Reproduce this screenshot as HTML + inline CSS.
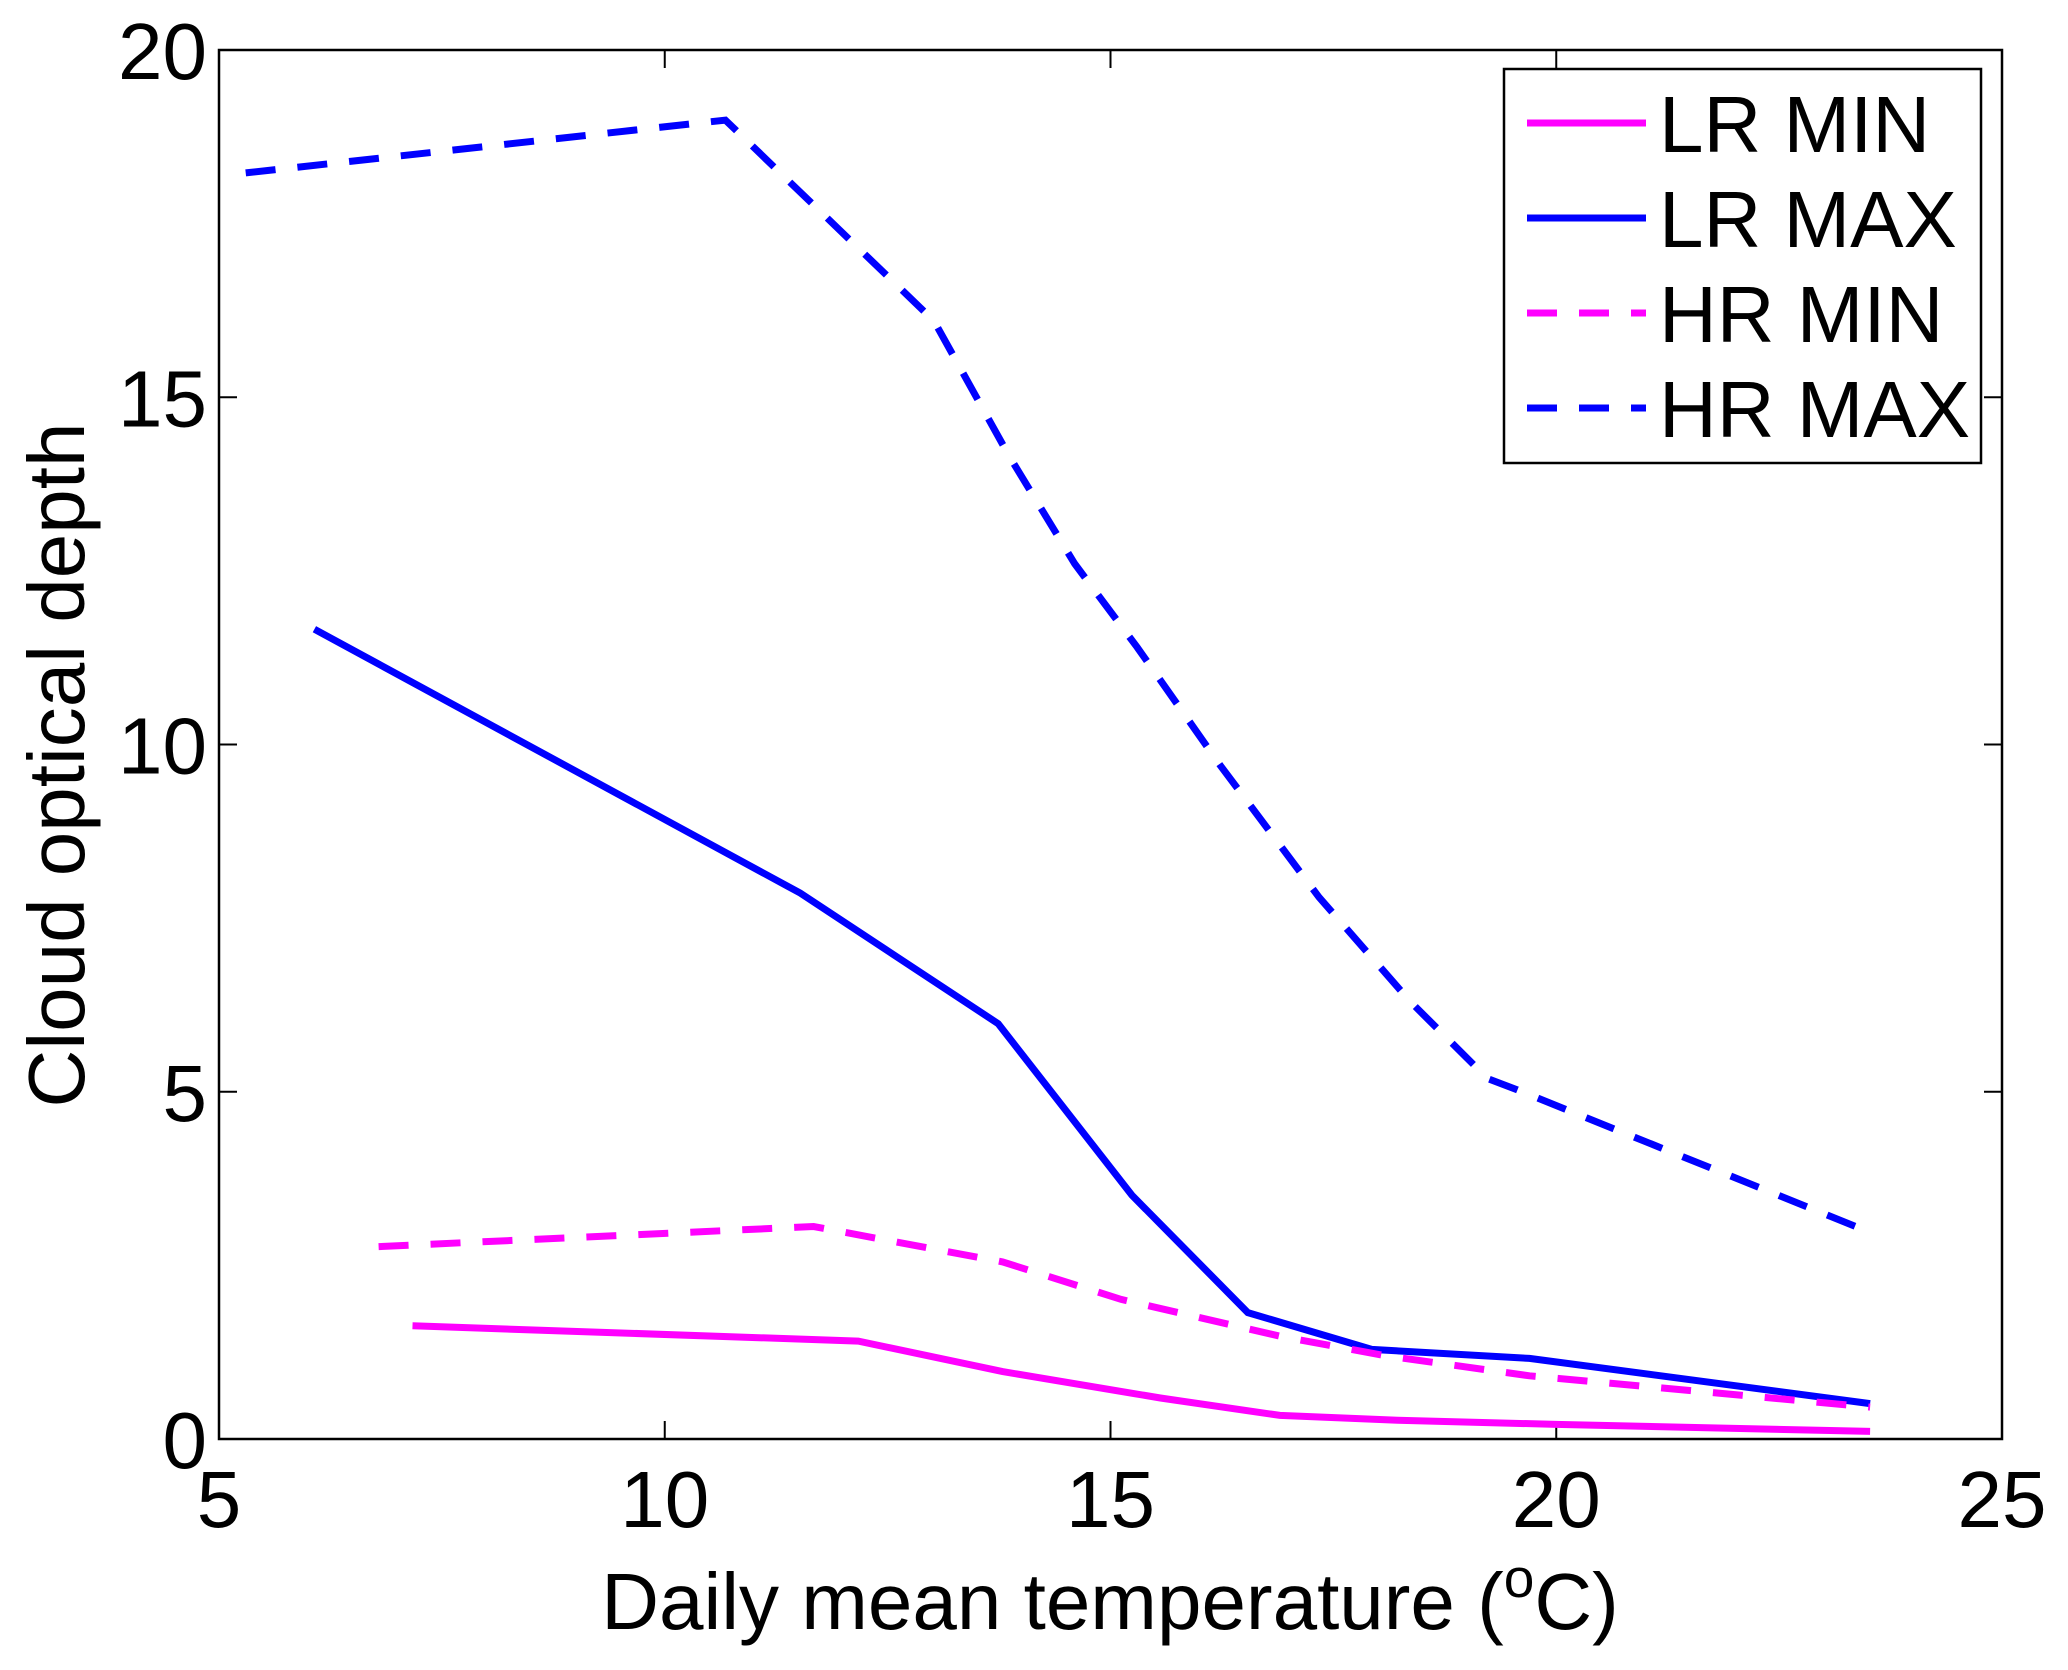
<!DOCTYPE html>
<html><head><meta charset="utf-8"><style>
html,body{margin:0;padding:0;background:#fff}
svg text{font-family:"Liberation Sans",sans-serif;fill:#000}
</style></head><body>
<svg id="chart" width="2068" height="1670" viewBox="0 0 2068 1670" xmlns="http://www.w3.org/2000/svg" style="position:absolute;left:0;top:0">
<rect width="2068" height="1670" fill="#fff"/>
<g id="plot"></g>
<text x="1110" y="1629" font-size="80" text-anchor="middle">Daily mean temperature (<tspan dy="-32" font-size="55">o</tspan><tspan dy="32">C)</tspan></text>
<text transform="translate(84,765) rotate(-90)" font-size="80" text-anchor="middle">Cloud optical depth</text>
<g>
<rect x="1504" y="69" width="477" height="394" fill="#fff" stroke="#000" stroke-width="2.5"/>
<line x1="1527" y1="123" x2="1646" y2="123" stroke="#ff00ff" stroke-width="7"/>
<text x="1659" y="152" font-size="80">LR MIN</text>
<line x1="1527" y1="218" x2="1646" y2="218" stroke="#0000ff" stroke-width="7"/>
<text x="1659" y="247" font-size="80">LR MAX</text>
<line x1="1527" y1="313" x2="1646" y2="313" stroke="#ff00ff" stroke-width="7" stroke-dasharray="30 22"/>
<text x="1659" y="342" font-size="80">HR MIN</text>
<line x1="1527" y1="408" x2="1646" y2="408" stroke="#0000ff" stroke-width="7" stroke-dasharray="30 22"/>
<text x="1659" y="437" font-size="80">HR MAX</text>
</g>
</svg>
<script>
const xTicks=[5,10,15,20,25];
const yTicks=[0,5,10,15,20];
const lrMinX=[7.17,12.17,13.79,15.56,16.9,18.22,20,23.52];
const lrMinY=[1.63,1.41,0.97,0.59,0.34,0.27,0.21,0.11];
const lrMaxX=[6.07,11.52,13.74,15.24,16.54,17.93,19.7,23.52];
const lrMaxY=[11.66,7.86,5.98,3.51,1.82,1.29,1.16,0.51];
const hrMinX=[6.79,11.67,13.79,15.12,16.9,18.08,19.7,23.52];
const hrMinY=[2.77,3.06,2.55,2.01,1.48,1.2,0.91,0.46];
const hrMaxX=[5.3,10.68,13.02,13.86,14.6,15.3,16.23,17.34,18.37,19.23,19.56,23.55];
const hrMaxY=[18.23,18.99,16.1,14.16,12.6,11.4,9.7,7.8,6.29,5.19,5.03,2.96];
const L=219,R=2002,T=50,B=1439;
function sx(v){return L+(v-5)/20*(R-L);}
function sy(v){return B-v/20*(B-T);}
const NS="http://www.w3.org/2000/svg";
const g=document.getElementById('plot');
function mk(tag,attrs){const e=document.createElementNS(NS,tag);for(const k in attrs)e.setAttribute(k,attrs[k]);g.appendChild(e);return e;}
const box=mk('rect',{x:L,y:T,width:R-L,height:B-T,fill:'none',stroke:'#000','stroke-width':2.5});


xTicks.forEach(v=>{
 const x=sx(v);
 mk('line',{x1:x,y1:B,x2:x,y2:B-18,stroke:'#000','stroke-width':2});
 mk('line',{x1:x,y1:T,x2:x,y2:T+18,stroke:'#000','stroke-width':2});
 const t=mk('text',{x:x,y:1527,'font-size':80,'text-anchor':'middle'});t.textContent=v;
 
 
});
yTicks.forEach(v=>{
 const y=sy(v);
 mk('line',{x1:L,y1:y,x2:L+18,y2:y,stroke:'#000','stroke-width':2});
 mk('line',{x1:R,y1:y,x2:R-18,y2:y,stroke:'#000','stroke-width':2});
 const t=mk('text',{x:207,y:y+29,'font-size':80,'text-anchor':'end'});t.textContent=v;
 
 
});
const series=[
 {x:lrMinX,y:lrMinY,c:'#ff00ff',d:'',n:'lr-min-line'},
 {x:lrMaxX,y:lrMaxY,c:'#0000ff',d:'',n:'lr-max-line'},
 {x:hrMinX,y:hrMinY,c:'#ff00ff',d:'30 22',n:'hr-min-line'},
 {x:hrMaxX,y:hrMaxY,c:'#0000ff',d:'30 22',n:'hr-max-line'}];
series.forEach(s=>{
 const pts=s.x.map((v,i)=>sx(v).toFixed(1)+','+sy(s.y[i]).toFixed(1)).join(' ');
 const p=mk('polyline',{points:pts,fill:'none',stroke:s.c,'stroke-width':7,'stroke-dasharray':s.d||'none'});
 
 
});
</script>
</body></html>
